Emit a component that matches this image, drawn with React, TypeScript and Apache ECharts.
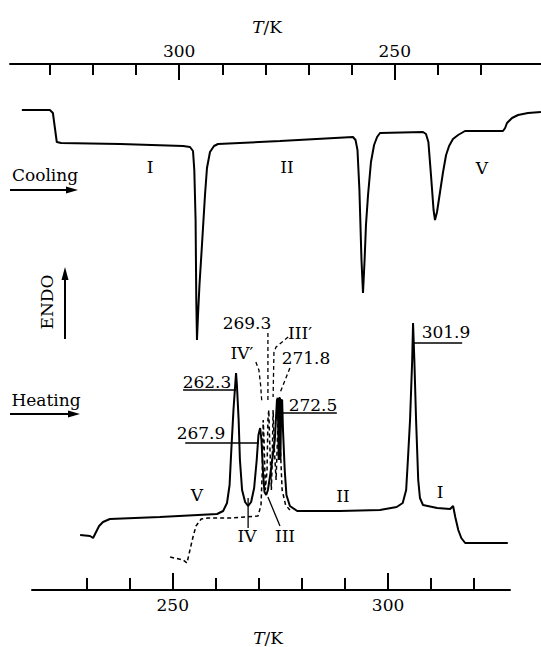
import React, { useEffect, useRef } from "react";
import * as echarts from "echarts";

// ---- axes ----
const topTicks = [230, 240, 250, 260, 270, 280, 290, 300, 310, 320, 330];
const topMajor = [250, 300];
const bottomTicks = [230, 240, 250, 260, 270, 280, 290, 300, 310, 320];
const bottomMajor = [250, 300];
const topRange = [216.08, 339.25];
const bottomRange = [217.32, 328.31];

// ---- cooling trace (top axis, T/K vs signal) ----
const coolingT = [
  336.5, 330.0, 329.3, 328.4, 327.4, 313.7, 299.1, 297.5, 296.8, 296.5, 296.2, 296.04, 295.88,
  295.64, 295.3, 294.72, 294.02, 293.56, 292.86, 291.93, 291.0, 276.6, 259.7, 259.1, 258.65,
  258.2, 257.72, 257.37, 257.0, 256.68, 256.2, 255.52, 254.8, 254.1, 253.43, 243.45, 242.76,
  242.2, 241.6, 241.0, 240.67, 240.2, 239.5, 238.8, 238.1, 237.4, 236.5, 235.3, 233.71, 224.9,
  224.4, 223.97, 222.8, 221.4, 219.1, 216.1,
];
const coolingSignal = [
  96.0, 96.0, 95.4, 89.6, 89.4, 89.2, 88.8, 88.6, 87.8, 84.0, 74.0, 58, 50, 55, 61, 69, 79, 84.4,
  87.6, 88.8, 89.2, 89.8, 90.6, 90.0, 88.0, 80, 66, 59.4, 66, 73, 79, 85.6, 89, 90.6, 91.4, 91.6,
  91.2, 89.6, 83, 76, 74, 75.6, 79.6, 83.6, 87, 88.8, 90.2, 91, 91.8, 91.8, 92.4, 93.4, 94.4, 95,
  95.4, 95.6,
];

// ---- heating trace (bottom axis) ----
const heatingT = [
  228.5, 230.8, 231.5, 232.2, 232.9, 233.8, 235.4, 247.0, 260.3, 261.7, 262.6, 263.2, 263.6,
  264.1, 264.5, 264.7, 264.9, 265.3, 265.6, 266.1, 266.8, 267.5, 268.2, 268.9, 269.5, 269.9,
  270.3, 270.6, 271.0, 271.3, 271.7, 272.1, 272.8, 273.7, 274.2, 274.4, 274.6, 274.7, 274.9,
  275.0, 275.2, 275.4, 275.6, 276.0, 276.4, 277.2, 278.9, 288.8, 298.1, 302.0, 303.4, 304.2,
  304.6, 305.1, 305.6, 305.8, 306.1, 306.5, 307.0, 307.4, 308.1, 311.4, 314.4, 315.1, 315.6,
  316.3, 317.0, 317.9, 327.8,
];
const heatingSignal = [
  11, 10.8, 10.4, 11.6, 12.8, 13.6, 14.2, 14.6, 15.2, 15.8, 17.4, 21, 28, 36, 41, 43.4, 41, 34,
  26, 20, 17.6, 16.8, 17.6, 20.4, 26, 31, 32.4, 30, 23, 19.6, 19, 20, 24, 30, 38, 38.4, 26, 38.4,
  38.4, 26, 38, 38, 32, 24, 19, 16.8, 15.8, 15.8, 16, 16.6, 17.4, 20, 26, 34, 46, 53.4, 46, 34,
  22, 18.4, 17, 16.4, 16.2, 16.8, 14.6, 12, 10.4, 9.4, 9.4,
];

// ---- heating re-run (dashed, bottom axis) ----
const rerunT = [
  249.4, 252.4, 253.3, 254.0, 254.7, 255.4, 256.6, 258.2, 263.3, 269.8, 270.5, 270.8, 271.0,
  271.2, 271.5, 271.9, 272.1, 272.3, 272.5, 272.9, 273.1, 273.3, 273.6, 274.0, 274.3, 274.6,
  274.9, 275.4, 276.2, 277.2,
];
const rerunSignal = [
  6.6, 6, 5.4, 8, 10.6, 12.8, 14.2, 14.4, 14.4, 14.8, 17, 24, 34, 30, 20, 24, 34, 36, 30, 20, 26,
  36, 28, 22, 30, 37, 30, 20, 17, 16,
];

// ---- peak annotations (heating axis) ----
const peakLabels = ["262.3", "267.9", "272.5", "301.9"];
const peakUnderlines = [
  [[252.4, 40], [264.7, 40]],
  [[252.9, 29.4], [270.0, 29.4]],
  [[274.9, 35.4], [288.1, 35.4]],
  [[305.8, 49.4], [317.2, 49.4]],
];
const dashedLabels = ["269.3", "III′", "IV′", "271.8"];
const dashedArrows = [
  [[272.1, 51.4], [272.1, 37.4]],
  [[276.8, 50.6], [274.0, 48.6], [273.5, 47.6], [273.3, 38.6]],
  [[269.3, 45.6], [270.0, 44], [270.4, 41], [270.7, 37.4]],
  [[277.2, 44.4], [274.8, 39.2]],
];
const phaseMarkers = [
  [[267.5, 12.4], [267.5, 18.4]],
  [[274.9, 12.8], [272.1, 18.6]],
];

const FONT = '17px "DejaVu Serif"';

const zip = (a: number[], b: number[]) => a.map((t, i) => [t, b[i]]);

function txt(text: string, x: number, y: number, extra: any = {}) {
  return {
    type: "text",
    x,
    y,
    ...extra,
    style: {
      text,
      font: FONT,
      fill: "#000",
      align: "center",
      verticalAlign: "middle",
      textAlign: "center",
      textVerticalAlign: "middle",
      ...(extra.style || {}),
    },
  };
}

export default function App() {
  const ref = useRef<HTMLDivElement>(null);
  useEffect(() => {
    if (!ref.current) return;
    const chart = echarts.init(ref.current, undefined, { renderer: "svg" });
    const lineStyle = { color: "#000", width: 2 };
    const tickStyle = { color: "#000", width: 2 };
    const labelStyle = { color: "#000", fontFamily: "DejaVu Serif", fontSize: 17 };
    const axisBase = (grid: number, pos: "top" | "bottom", range: number[], inverse: boolean) => ({
      type: "value",
      gridIndex: grid,
      position: pos,
      min: range[0],
      max: range[1],
      inverse,
      splitLine: { show: false },
    });
    const topGrid = { left: 10, width: 531, top: 64, height: 526 };
    const bottomGrid = { left: 32, width: 478, top: 64, height: 526 };
    const option: any = {
      animation: false,
      backgroundColor: "#fff",
      grid: [topGrid, bottomGrid, { ...topGrid }, { ...bottomGrid }],
      xAxis: [
        {
          ...axisBase(0, "top", topRange, true),
          axisLine: { show: true, onZero: false, lineStyle: { color: "#000", width: 2 } },
          axisTick: { show: true, inside: true, length: 11, customValues: topTicks, lineStyle: tickStyle },
          axisLabel: { show: false },
        },
        {
          ...axisBase(1, "bottom", bottomRange, false),
          axisLine: { show: true, onZero: false, lineStyle: { color: "#000", width: 2 } },
          axisTick: { show: true, inside: true, length: 12, customValues: bottomTicks, lineStyle: tickStyle },
          axisLabel: { show: false },
        },
        {
          ...axisBase(2, "top", topRange, true),
          axisLine: { show: false, onZero: false },
          axisTick: { show: true, inside: true, length: 16, customValues: topMajor, lineStyle: tickStyle },
          axisLabel: { show: true, customValues: topMajor, margin: 5, ...labelStyle },
        },
        {
          ...axisBase(3, "bottom", bottomRange, false),
          axisLine: { show: false, onZero: false },
          axisTick: { show: true, inside: true, length: 17, customValues: bottomMajor, lineStyle: tickStyle },
          axisLabel: { show: true, customValues: bottomMajor, margin: 6, ...labelStyle },
        },
      ],
      yAxis: [0, 1, 2, 3].map((g) => ({ type: "value", gridIndex: g, min: 0, max: 105.2, show: false })),
      series: [
        {
          name: "Cooling",
          type: "line",
          xAxisIndex: 0,
          yAxisIndex: 0,
          data: zip(coolingT, coolingSignal),
          showSymbol: false,
          symbol: "none",
          clip: false,
          lineStyle,
        },
        {
          name: "Heating",
          type: "line",
          xAxisIndex: 1,
          yAxisIndex: 1,
          data: zip(heatingT, heatingSignal),
          showSymbol: false,
          symbol: "none",
          clip: false,
          lineStyle,
        },
        {
          name: "Heating re-run",
          type: "line",
          xAxisIndex: 1,
          yAxisIndex: 1,
          data: zip(rerunT, rerunSignal),
          showSymbol: false,
          symbol: "none",
          clip: false,
          lineStyle: { color: "#000", width: 1.5, type: [4, 3] },
        },
        {
          name: "underlines",
          type: "lines",
          coordinateSystem: "cartesian2d",
          xAxisIndex: 1,
          yAxisIndex: 1,
          polyline: true,
          symbol: ["none", "none"],
          data: peakUnderlines.map((c) => ({ coords: c })),
          lineStyle: { color: "#000", width: 1.5, opacity: 1 },
        },
        {
          name: "dashed arrows",
          type: "lines",
          coordinateSystem: "cartesian2d",
          xAxisIndex: 1,
          yAxisIndex: 1,
          polyline: true,
          symbol: ["none", "arrow"],
          symbolSize: 6,
          data: dashedArrows.map((c) => ({ coords: c })),
          lineStyle: { color: "#000", width: 1.3, type: [4, 3], opacity: 1 },
        },
        {
          name: "phase markers",
          type: "lines",
          coordinateSystem: "cartesian2d",
          xAxisIndex: 1,
          yAxisIndex: 1,
          polyline: true,
          symbol: ["none", "arrow"],
          symbolSize: 5,
          data: phaseMarkers.map((c) => ({ coords: c })),
          lineStyle: { color: "#000", width: 1.3, opacity: 1 },
        },
      ],
      graphic: [
        txt("{i|T}/K", 267, 27, { style: { rich: { i: { fontStyle: "italic", font: 'italic 17px "DejaVu Serif"' } } } }),
        txt("{i|T}/K", 268, 638, { style: { rich: { i: { fontStyle: "italic", font: 'italic 17px "DejaVu Serif"' } } } }),
        // cooling
        txt("Cooling", 45, 175),
        { type: "line", shape: { x1: 10, y1: 190, x2: 70, y2: 190 }, style: { stroke: "#000", lineWidth: 2 } },
        { type: "polygon", shape: { points: [[66, 186.5], [78, 190], [66, 193.5]] }, style: { fill: "#000" } },
        txt("I", 150, 167),
        txt("II", 287, 167),
        txt("V", 482, 168),
        // ENDO
        txt("ENDO", 47, 302, { rotation: Math.PI / 2 }),
        { type: "line", shape: { x1: 65, y1: 339, x2: 65, y2: 276 }, style: { stroke: "#000", lineWidth: 2 } },
        { type: "polygon", shape: { points: [[61.5, 280], [65, 267], [68.5, 280]] }, style: { fill: "#000" } },
        // heating
        txt("Heating", 46, 400),
        { type: "line", shape: { x1: 10, y1: 414, x2: 72, y2: 414 }, style: { stroke: "#000", lineWidth: 2 } },
        { type: "polygon", shape: { points: [[68, 410.5], [80, 414], [68, 417.5]] }, style: { fill: "#000" } },
        txt("V", 197, 495),
        txt("IV", 247, 536),
        txt("III", 285, 536),
        txt("II", 343, 496),
        txt("I", 440, 492),
        // peak labels
        txt(peakLabels[0], 207, 382),
        txt(peakLabels[1], 201, 433),
        txt(peakLabels[2], 313, 405),
        txt(peakLabels[3], 446, 332),
        txt(dashedLabels[0], 247, 323),
        txt(dashedLabels[1], 300, 333),
        txt(dashedLabels[2], 242, 353),
        txt(dashedLabels[3], 306, 358),
      ],
    };
    chart.setOption(option);
    return () => chart.dispose();
  }, []);
  return <div ref={ref} style={{ width: 541, height: 647, position: "absolute", left: 0, top: 0 }} />;
}
